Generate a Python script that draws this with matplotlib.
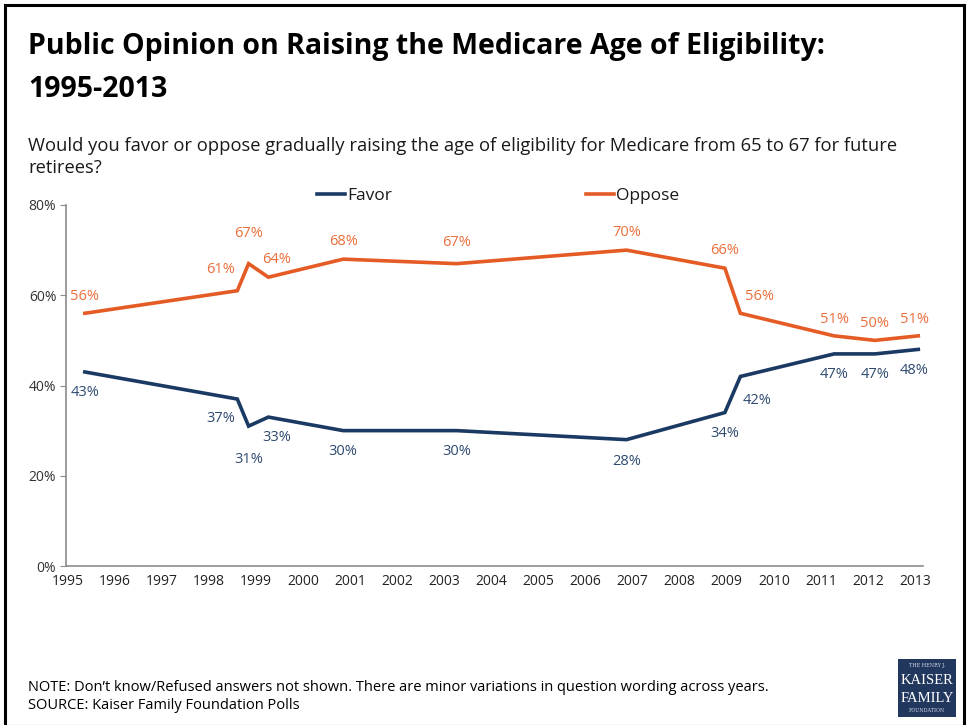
import matplotlib
matplotlib.use("Agg")
import matplotlib.pyplot as plt
from matplotlib import font_manager as fm
from matplotlib.patches import Rectangle

# ---- data ----
years = [1995.36, 1998.60, 1998.84, 1999.26, 2000.85, 2003.26, 2006.87,
         2008.96, 2009.29, 2011.28, 2012.15, 2013.07]
favor = [43, 37, 31, 33, 30, 30, 28, 34, 42, 47, 47, 48]
oppose = [56, 61, 67, 64, 68, 67, 70, 66, 56, 51, 50, 51]
xtick_years = list(range(1995, 2014))
ytick_vals = [0, 20, 40, 60, 80]

# label offsets (points) relative to each data point
oppose_off = [(0, 12), (-12, 15), (0, 22), (6, 13), (0, 13), (0, 15), (0, 13),
              (0, 13), (14, 12), (0, 12), (0, 12), (-3, 12)]
favor_off = [(0, -15), (-12, -14), (0, -24), (6, -15), (0, -15), (0, -15), (0, -16),
             (0, -15), (12, -17), (0, -15), (0, -15), (-3, -15)]

FAVOR_C = "#1B3A63"
OPPOSE_C = "#E55B25"
FAVOR_LBL = "#2E4A70"
OPPOSE_LBL = "#EA6E3A"

names = {f.name for f in fm.fontManager.ttflist}
main_font = "Open Sans" if "Open Sans" in names else "DejaVu Sans"
narrow_font = "Liberation Sans Narrow" if "Liberation Sans Narrow" in names else main_font
plt.rcParams["font.family"] = [main_font, "DejaVu Sans"]

W, H = 969, 725
fig = plt.figure(figsize=(W / 100, H / 100), dpi=100)

def fx(px):
    return px / W

def fy(py):
    return 1 - py / H

# outer frame
fig.patches.append(Rectangle((fx(5), fy(726)), fx(964) - fx(5), fy(5) - fy(726),
                             transform=fig.transFigure, fill=False,
                             edgecolor="black", linewidth=2.2))

# title
fig.text(fx(28), fy(54), "Public Opinion on Raising the Medicare Age of Eligibility:",
         fontsize=20.5, fontweight="bold", color="black", va="baseline")
fig.text(fx(28), fy(97), "1995-2013", fontsize=20.5, fontweight="bold",
         color="black", va="baseline")
fig.text(fx(28), fy(151),
         "Would you favor or oppose gradually raising the age of eligibility for Medicare from 65 to 67 for future",
         fontsize=13.2, color="#1a1a1a", va="baseline")
fig.text(fx(28), fy(173), "retirees?", fontsize=13.2, color="#1a1a1a", va="baseline")

# axes
ax = fig.add_axes([fx(66), fy(566), fx(923) - fx(66), fy(205) - fy(566)])
ax.plot(years, favor, color=FAVOR_C, linewidth=2.6, label="Favor", solid_joinstyle="miter")
ax.plot(years, oppose, color=OPPOSE_C, linewidth=2.6, label="Oppose", solid_joinstyle="miter")

for x, v, (dx, dy) in zip(years, oppose, oppose_off):
    ax.annotate(f"{v}%", (x, v), xytext=(dx, dy), textcoords="offset points",
                ha="center", va="center", fontsize=10.5, color=OPPOSE_LBL)
for x, v, (dx, dy) in zip(years, favor, favor_off):
    ax.annotate(f"{v}%", (x, v), xytext=(dx, dy), textcoords="offset points",
                ha="center", va="center", fontsize=10.5, color=FAVOR_LBL)

ax.set_xlim(1994.96, 2013.17)
ax.set_ylim(0, 80)
ax.set_yticks(ytick_vals)
ax.set_yticklabels([f"{v}%" for v in ytick_vals])
ax.set_xticks(xtick_years)
ax.set_xticklabels([str(y) for y in xtick_years])
for s in ["top", "right"]:
    ax.spines[s].set_visible(False)
for s in ["left", "bottom"]:
    ax.spines[s].set_color("#8c8c8c")
    ax.spines[s].set_linewidth(1.2)
ax.tick_params(axis="y", length=4, color="#8c8c8c", labelsize=10, labelcolor="#333333", pad=3)
ax.tick_params(axis="x", length=0, labelsize=10, labelcolor="#222222", pad=6)
ax.patch.set_alpha(0)

# legend
leg = fig.legend(loc="center", bbox_to_anchor=(fx(498), fy(196)), ncol=2, frameon=False,
                 fontsize=12.5, handlelength=1.6, handletextpad=0.12, columnspacing=11.2,
                 borderpad=0.2)
for t in leg.get_texts():
    t.set_color("#1a1a1a")

# notes
fig.text(fx(28), fy(691),
         "NOTE: Don\u2019t know/Refused answers not shown. There are minor variations in question wording across years.",
         fontsize=10.5, family=[narrow_font, "DejaVu Sans"], color="black", va="baseline")
fig.text(fx(28), fy(709), "SOURCE: Kaiser Family Foundation Polls",
         fontsize=10.5, family=[narrow_font, "DejaVu Sans"], color="black", va="baseline")

# logo
fig.patches.append(Rectangle((fx(898), fy(717)), fx(956) - fx(898), fy(659) - fy(717),
                             transform=fig.transFigure, facecolor="#22375E", edgecolor="none"))
cx = fx(927)
fig.text(cx, fy(666), "THE HENRY J.", fontsize=3.5, color="#d0d8e8", ha="center", va="center",
         family="DejaVu Serif")
fig.text(cx, fy(680), "KAISER", fontsize=10.5, color="white", ha="center", va="center",
         family="Liberation Serif")
fig.text(cx, fy(698), "FAMILY", fontsize=10.5, color="white", ha="center", va="center",
         family="Liberation Serif")
fig.text(cx, fy(711), "FOUNDATION", fontsize=3.5, color="#d0d8e8", ha="center", va="center",
         family="DejaVu Serif")

fig.savefig("out.png", dpi=100)
